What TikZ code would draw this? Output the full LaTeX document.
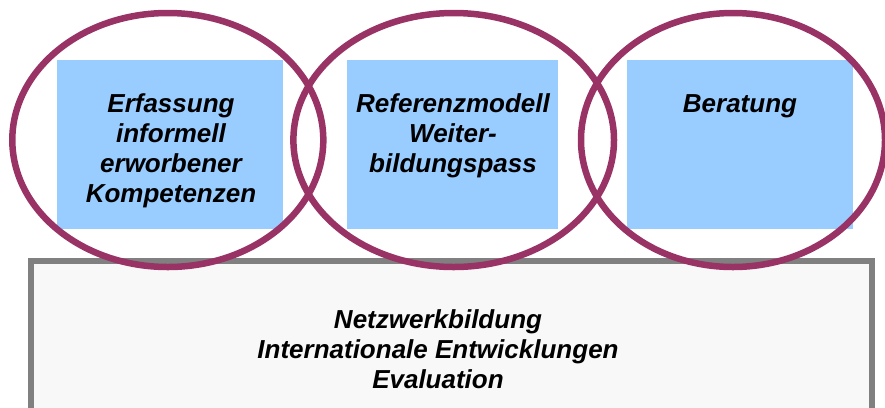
\documentclass[tikz,border=0pt]{standalone}
\usepackage{fontspec}
\setmainfont{Liberation Sans}
\usetikzlibrary{shapes.geometric}
\definecolor{plum}{HTML}{993366}
\definecolor{lightblue}{HTML}{99CCFF}
\definecolor{frame}{HTML}{808080}
\definecolor{panel}{HTML}{F8F8F8}
\tikzset{
  bluebox/.style={fill=lightblue, draw=none, inner sep=0pt},
  ring/.style={draw=plum, line width=6.5bp, ellipse, inner sep=0pt},
  label/.style={font=\fontsize{26bp}{30bp}\selectfont\bfseries\itshape, align=center, inner sep=0pt, anchor=base},
  basebox/.style={draw=frame, fill=panel, line width=5.5bp, inner sep=0pt}
}
\begin{document}
\begin{tikzpicture}[x=1bp, y=-1bp]
\useasboundingbox (0,0) rectangle (885,407);
\clip (0,0) rectangle (885,407);
% base panel
\node[basebox, minimum width=841bp, minimum height=200bp, anchor=north west] (base) at (28.3,258.3) {};
\node[label] (basetext) at (438,388.5) {Netzwerkbildung\\Internationale Entwicklungen\\Evaluation};
% blue boxes
\node[bluebox, minimum width=226bp, minimum height=169bp, anchor=north west] (b1) at (57,60) {};
\node[bluebox, minimum width=211bp, minimum height=169bp, anchor=north west] (b2) at (347,60) {};
\node[bluebox, minimum width=226bp, minimum height=169bp, anchor=north west] (b3) at (627,60) {};
% texts (anchor = baseline of last line)
\node[label] (t1) at (171,202) {Erfassung\\informell\\erworbener\\Kompetenzen};
\node[label] (t2) at (453,172) {Referenzmodell\\Weiter-\\bildungspass};
\node[label] (t3) at (740,112) {Beratung};
% ellipses
\node[ring, minimum width=311bp, minimum height=254bp] (e1) at (167.8,140) {};
\node[ring, minimum width=320.6bp, minimum height=254bp] (e2) at (453.7,140) {};
\node[ring, minimum width=304bp, minimum height=254bp] (e3) at (733,140) {};
\end{tikzpicture}
\end{document}
